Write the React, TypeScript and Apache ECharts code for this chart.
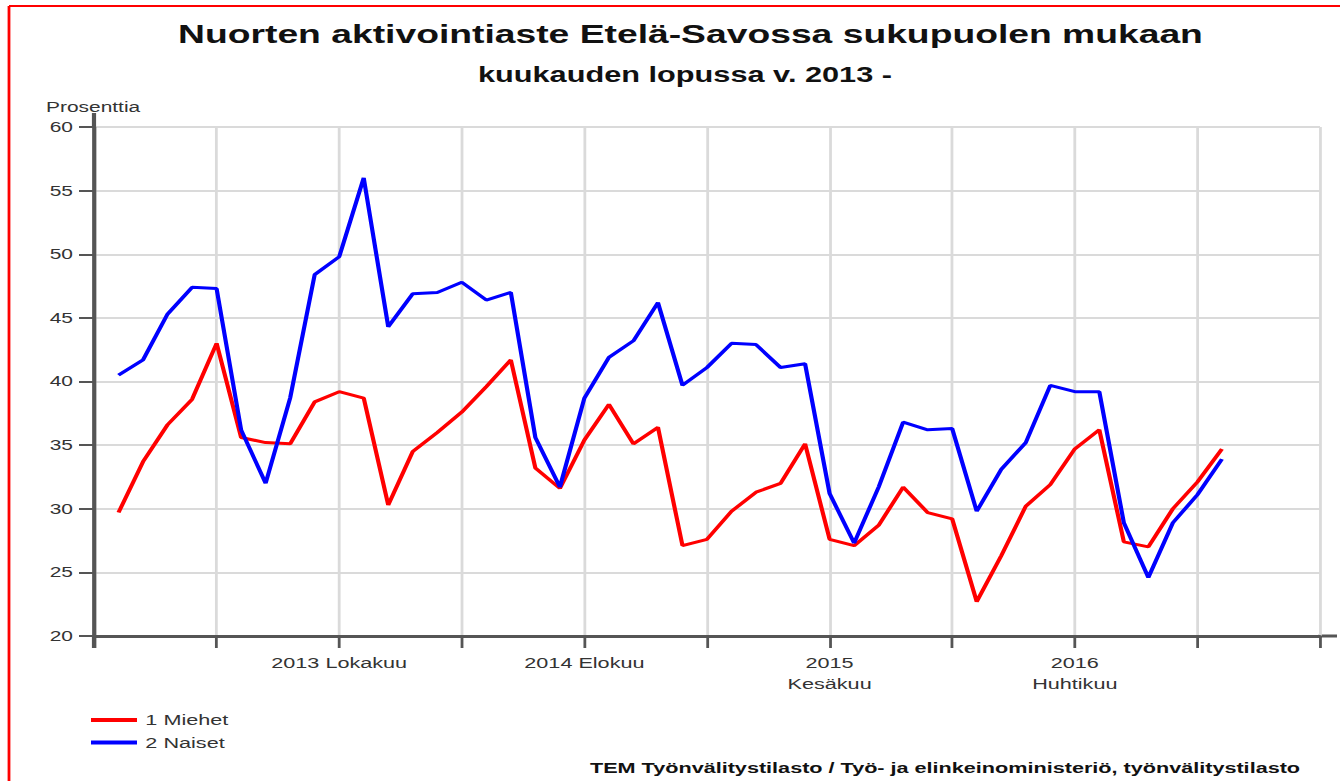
import React, { useEffect, useRef } from "react";
import * as echarts from "echarts";

const months = [
  "2012 Joulukuu",
  "2013 Tammikuu", "2013 Helmikuu", "2013 Maaliskuu", "2013 Huhtikuu", "2013 Toukokuu", "2013 Kesäkuu",
  "2013 Heinäkuu", "2013 Elokuu", "2013 Syyskuu", "2013 Lokakuu", "2013 Marraskuu", "2013 Joulukuu",
  "2014 Tammikuu", "2014 Helmikuu", "2014 Maaliskuu", "2014 Huhtikuu", "2014 Toukokuu", "2014 Kesäkuu",
  "2014 Heinäkuu", "2014 Elokuu", "2014 Syyskuu", "2014 Lokakuu", "2014 Marraskuu", "2014 Joulukuu",
  "2015 Tammikuu", "2015 Helmikuu", "2015 Maaliskuu", "2015 Huhtikuu", "2015 Toukokuu", "2015 Kesäkuu",
  "2015 Heinäkuu", "2015 Elokuu", "2015 Syyskuu", "2015 Lokakuu", "2015 Marraskuu", "2015 Joulukuu",
  "2016 Tammikuu", "2016 Helmikuu", "2016 Maaliskuu", "2016 Huhtikuu", "2016 Toukokuu", "2016 Kesäkuu",
  "2016 Heinäkuu", "2016 Elokuu", "2016 Syyskuu", "2016 Lokakuu", "2016 Marraskuu", "2016 Joulukuu",
  "2017 Tammikuu", "2017 Helmikuu",
];

const tickLabels: Record<string, string> = {
  "2013 Lokakuu": "2013 Lokakuu",
  "2014 Elokuu": "2014 Elokuu",
  "2015 Kesäkuu": "2015\nKesäkuu",
  "2016 Huhtikuu": "2016\nHuhtikuu",
};

const miehet = [
  null,
  29.7, 33.7, 36.6, 38.6, 43.0, 35.6, 35.2, 35.1, 38.4, 39.2, 38.7, 30.3,
  34.5, 36.0, 37.6, 39.6, 41.7, 33.2, 31.6, 35.4, 38.2, 35.1, 36.4, 27.1,
  27.6, 29.8, 31.3, 32.0, 35.1, 27.6, 27.1, 28.7, 31.7, 29.7, 29.2, 22.7,
  26.3, 30.2, 31.9, 34.7, 36.2, 27.4, 27.0, 30.0, 32.1, 34.7,
  null, null, null, null,
];

const naiset = [
  null,
  40.5, 41.7, 45.3, 47.4, 47.3, 36.2, 32.0, 38.7, 48.4, 49.8, 56.0, 44.3,
  46.9, 47.0, 47.8, 46.4, 47.0, 35.6, 31.7, 38.7, 41.9, 43.2, 46.2, 39.7,
  41.1, 43.0, 42.9, 41.1, 41.4, 31.2, 27.3, 31.7, 36.8, 36.2, 36.3, 29.8,
  33.1, 35.2, 39.7, 39.2, 39.2, 28.9, 24.6, 28.9, 31.1, 33.9,
  null, null, null, null,
];

const seriesNames = ["1 Miehet", "2 Naiset"];

// The reference's texts are horizontally stretched: draw at a narrower width and stretch.
const PAGE_W = 1340;
const PAGE_H = 781;
const INNER_W = 960;
const SX = PAGE_W / INNER_W;
const px = (x: number) => x / SX;

export default function App() {
  const ref = useRef<HTMLDivElement>(null);
  useEffect(() => {
    if (!ref.current) return;
    const chart = echarts.init(ref.current, null, { renderer: "svg" });
    const font = "Liberation Sans, Arial, sans-serif";
    const axisColor = "#555";
    const gridLeft = px(94);
    const gridRightEdge = px(1320);
    chart.setOption({
      animation: false,
      backgroundColor: "#fff",
      textStyle: { fontFamily: font },
      grid: { left: gridLeft, right: INNER_W - gridRightEdge, top: 127, bottom: 145, containLabel: false },
      title: [
        {
          text: "Nuorten aktivointiaste Etelä-Savossa sukupuolen mukaan",
          left: px(683.5), top: 15, textAlign: "center",
          textStyle: { fontSize: 26.7, fontWeight: "bold", color: "#111", fontFamily: font },
        },
        {
          text: "kuukauden lopussa v. 2013 -",
          left: px(678), top: 59, textAlign: "center",
          textStyle: { fontSize: 22, fontWeight: "bold", color: "#111", fontFamily: font },
        },
        {
          text: "Prosenttia",
          left: px(46) - 5, top: 95,
          textStyle: { fontSize: 15, fontWeight: "normal", color: "#333", fontFamily: font },
        },
        {
          text: "TEM Työnvälitystilasto / Työ- ja elinkeinoministeriö, työnvälitystilasto",
          left: px(590) - 5, top: 755,
          textStyle: { fontSize: 15.5, fontWeight: "bold", color: "#111", fontFamily: font },
        },
      ],
      legend: {
        orient: "vertical",
        left: px(91) - 5, top: 707,
        icon: "rect",
        itemWidth: px(46), itemHeight: 4, itemGap: 6.5,
        data: seriesNames,
        textStyle: { fontSize: 15.5, color: "#333", fontFamily: font, padding: [0, 0, 0, 1] },
      },
      xAxis: {
        type: "category",
        boundaryGap: false,
        data: months,
        axisLine: { show: true, lineStyle: { color: axisColor, width: 3 } },
        axisTick: { show: true, interval: 4, length: 12, lineStyle: { color: axisColor, width: 2 } },
        axisLabel: {
          interval: 0,
          margin: 16.5,
          fontSize: 15.5,
          lineHeight: 21,
          color: "#333",
          fontFamily: font,
          formatter: (v: string) => tickLabels[v] || "",
        },
        splitLine: { show: true, interval: 4, lineStyle: { color: "#dadada", width: 2 } },
      },
      yAxis: {
        type: "value",
        min: 20, max: 60, interval: 5,
        axisLine: { show: true, onZero: false, lineStyle: { color: axisColor, width: 3 } },
        axisTick: { show: true, length: px(15), lineStyle: { color: axisColor, width: 2 } },
        axisLabel: { fontSize: 15, color: "#333", margin: px(21), fontFamily: font },
        splitLine: { show: true, lineStyle: { color: "#dadada", width: 2 } },
      },
      series: [
        {
          name: seriesNames[0], type: "line", data: miehet, symbol: "none",
          itemStyle: { color: "#ff0000" },
          lineStyle: { color: "#ff0000", width: 3 }, z: 3,
        },
        {
          name: seriesNames[1], type: "line", data: naiset, symbol: "none",
          itemStyle: { color: "#0000ff" },
          lineStyle: { color: "#0000ff", width: 3 }, z: 4,
        },
      ],
      graphic: [
        { type: "line", shape: { x1: px(9), y1: 6, x2: INNER_W, y2: 6 }, style: { stroke: "#ff0000", lineWidth: 2 } },
        { type: "line", shape: { x1: px(9), y1: 6, x2: px(9), y2: PAGE_H }, style: { stroke: "#ff0000", lineWidth: 2 } },
        { type: "line", shape: { x1: gridLeft, y1: 113, x2: gridLeft, y2: 128 }, style: { stroke: axisColor, lineWidth: 3 } },
        { type: "line", shape: { x1: gridLeft, y1: 636, x2: gridLeft, y2: 648 }, style: { stroke: axisColor, lineWidth: 3 } },
        { type: "line", shape: { x1: gridRightEdge - 1, y1: 636, x2: px(1337), y2: 636 }, style: { stroke: axisColor, lineWidth: 3 } },
      ],
    });
    return () => chart.dispose();
  }, []);
  return (
    <div
      style={{
        position: "fixed", left: 0, top: 0, width: PAGE_W, height: PAGE_H,
        overflow: "hidden", background: "#fff",
      }}
    >
      <div
        ref={ref}
        style={{
          width: INNER_W, height: PAGE_H,
          transform: `scaleX(${SX})`, transformOrigin: "0 0",
        }}
      />
    </div>
  );
}
